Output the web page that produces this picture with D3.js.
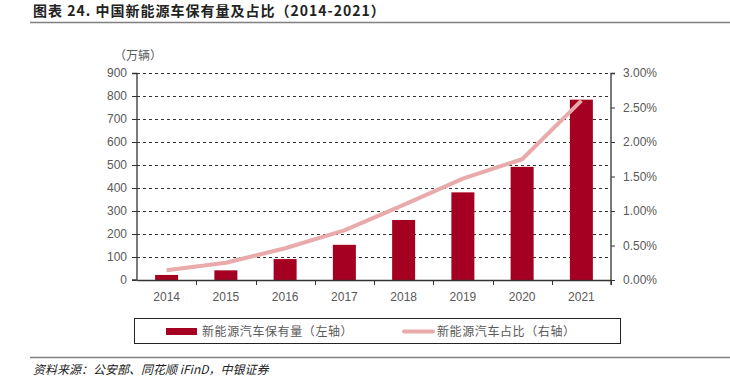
<!DOCTYPE html>
<html>
<head>
<meta charset="utf-8">
<script src="https://cdn.jsdelivr.net/npm/d3@7"></script>
<style>
  body { margin: 0; background: #fff; }
  text { font-family: "Liberation Sans", Arial, sans-serif; }
  .cjk { font-family: "Noto Sans CJK SC", sans-serif; }
</style>
</head>
<body>
<div id="chart"></div>
<script>
var years = ["2014", "2015", "2016", "2017", "2018", "2019", "2020", "2021"]
var stock = [22, 42, 91, 153, 261, 381, 492, 784]
var share = [0.14, 0.25, 0.46, 0.72, 1.09, 1.47, 1.75, 2.6]
var leftTicks = [0, 100, 200, 300, 400, 500, 600, 700, 800, 900]
var rightTicks = [0, 0.5, 1, 1.5, 2, 2.5, 3]

var widthSvg = 730
var heightSvg = 389
var margin = { top: 73, left: 137, right: 119, bottom: 109 }
var w = widthSvg - margin.left - margin.right
var h = heightSvg - margin.top - margin.bottom

var svg = d3.select("#chart").append("svg")
  .attr("width", widthSvg)
  .attr("height", heightSvg)

// title + rules
svg.append("text")
  .attr("class", "cjk")
  .attr("x", 33).attr("y", 16)
  .attr("font-size", 14).attr("font-weight", "bold")
  .attr("letter-spacing", 1)
  .attr("fill", "#222")
  .text("图表 24. 中国新能源车保有量及占比（2014-2021）")

svg.append("line").attr("x1", 30).attr("x2", 730).attr("y1", 22.5).attr("y2", 22.5)
  .attr("stroke", "#808080").attr("stroke-width", 1.5)
svg.append("line").attr("x1", 30).attr("x2", 730).attr("y1", 357.5).attr("y2", 357.5)
  .attr("stroke", "#808080").attr("stroke-width", 1.5)

svg.append("text")
  .attr("class", "cjk")
  .attr("x", 33).attr("y", 374)
  .attr("font-size", 12).attr("font-style", "italic")
  .attr("fill", "#222")
  .text("资料来源：公安部、同花顺 iFinD，中银证券")

var g = svg.append("g").attr("transform", "translate(" + margin.left + "," + margin.top + ")")

var x = d3.scaleBand().domain(years).range([0, w])
var yL = d3.scaleLinear().domain([0, 900]).range([h, 0])
var yR = d3.scaleLinear().domain([0, 3]).range([h, 0])

// grid
g.selectAll(".grid").data(leftTicks.slice(1)).enter().append("line")
  .attr("x1", 0).attr("x2", w)
  .attr("y1", function(d) { return Math.round(yL(d)) + 0.5 })
  .attr("y2", function(d) { return Math.round(yL(d)) + 0.5 })
  .attr("stroke", "#333").attr("stroke-dasharray", "3,3")

// bars
var barW = 23
g.selectAll(".bar").data(stock).enter().append("rect")
  .attr("x", function(d, i) { return x(years[i]) + x.bandwidth() / 2 - barW / 2 })
  .attr("y", function(d) { return yL(d) })
  .attr("width", barW)
  .attr("height", function(d) { return h - yL(d) })
  .attr("fill", "#A50021")

// line
var line = d3.line()
  .x(function(d, i) { return x(years[i]) + x.bandwidth() / 2 })
  .y(function(d) { return yR(d) })
g.append("path").datum(share)
  .attr("d", line)
  .attr("fill", "none")
  .attr("stroke", "#E8AAAA")
  .attr("stroke-width", 4)
  .attr("stroke-linejoin", "round")

// axes
var fmtR = function(d) { return d.toFixed(2) + "%" }
var axL = g.append("g").call(d3.axisLeft(yL).tickValues(leftTicks).tickSize(5).tickPadding(5))
var axR = g.append("g").attr("transform", "translate(" + w + ",0)")
  .call(d3.axisRight(yR).tickValues(rightTicks).tickFormat(fmtR).tickSize(4).tickPadding(8))
var axX = g.append("g").attr("transform", "translate(0," + h + ")")
  .call(d3.axisBottom(x).tickSize(0).tickPadding(12))

// category boundary ticks
g.selectAll(".xtick").data(years.slice(1).concat(["end"])).enter().append("line")
  .attr("x1", function(d, i) { return Math.round(x.step() * (i + 1)) + 0.5 })
  .attr("x2", function(d, i) { return Math.round(x.step() * (i + 1)) + 0.5 })
  .attr("y1", h).attr("y2", h + 5)
  .attr("stroke", "#333")

;[axL, axR, axX].forEach(function(a) {
  a.select(".domain").attr("stroke", "#333").attr("stroke-width", 1.3)
  a.selectAll(".tick line").attr("stroke", "#333")
  a.selectAll("text").attr("font-size", 12).attr("fill", "#595959")
    .attr("font-family", "'Liberation Sans', Arial, sans-serif")
})
axL.select(".domain").attr("d", "M-5,0.5H0V" + h + "H-5")
axR.select(".domain").attr("d", "M4,0.5H0V" + (h + 5))

svg.append("text")
  .attr("class", "cjk")
  .attr("x", 114).attr("y", 60)
  .attr("font-size", 12).attr("fill", "#595959")
  .text("（万辆）")

// legend
var lg = svg.append("g")
lg.append("rect").attr("x", 134.5).attr("y", 318.5).attr("width", 486).attr("height", 25)
  .attr("fill", "none").attr("stroke", "#222").attr("stroke-width", 1)
lg.append("rect").attr("x", 166).attr("y", 328).attr("width", 31).attr("height", 7)
  .attr("fill", "#A50021")
lg.append("text").attr("class", "cjk").attr("x", 202).attr("y", 336)
  .attr("font-size", 12).attr("letter-spacing", 0.6).attr("fill", "#595959").text("新能源汽车保有量（左轴）")
lg.append("line").attr("x1", 404).attr("x2", 433).attr("y1", 331.5).attr("y2", 331.5)
  .attr("stroke", "#E8AAAA").attr("stroke-width", 4).attr("stroke-linecap", "round")
lg.append("text").attr("class", "cjk").attr("x", 437).attr("y", 336)
  .attr("font-size", 12).attr("letter-spacing", 0.6).attr("fill", "#595959").text("新能源汽车占比（右轴）")
</script>
</body>
</html>
